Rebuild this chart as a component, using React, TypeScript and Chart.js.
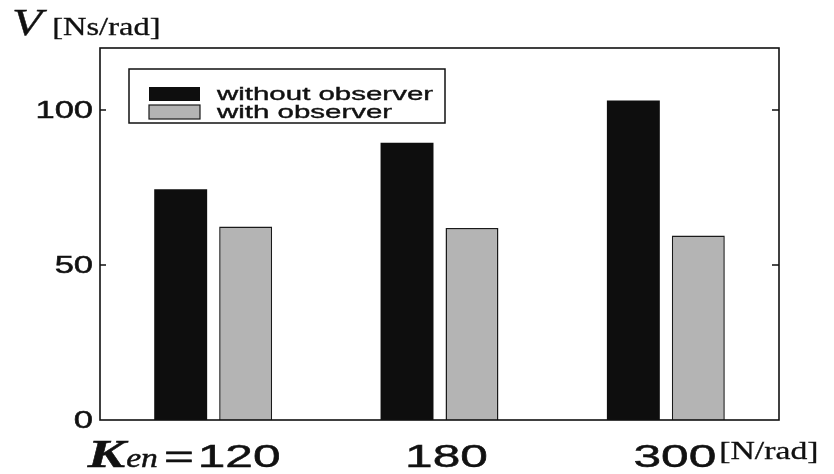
import React, { useEffect, useRef } from "react";
import { Chart, registerables } from "chart.js";

Chart.register(...registerables);

const categories = ["120", "180", "300"];
const withoutObserver = [74.4, 89.4, 103.1];
const withObserver = [62.4, 61.9, 59.5];
const yTickValues = [0, 50, 100];
const seriesLabels = ["without observer", "with observer"];

const SANS = '"Liberation Sans", Arial, sans-serif';
const SERIF = '"Liberation Serif", "Times New Roman", serif';

function sText(
  ctx: CanvasRenderingContext2D,
  text: string,
  x: number,
  y: number,
  font: string,
  sx: number,
  align: "left" | "right" | "center",
  baseline: CanvasTextBaseline = "alphabetic",
  heft = 0.5
) {
  ctx.save();
  ctx.font = font;
  ctx.textAlign = "left";
  ctx.textBaseline = baseline;
  const w = ctx.measureText(text).width * sx;
  const x0 = align === "left" ? x : align === "right" ? x - w : x - w / 2;
  ctx.translate(x0, y);
  ctx.scale(sx, 1);
  ctx.fillStyle = "#111";
  ctx.fillText(text, 0, 0);
  if (heft > 0) {
    ctx.strokeStyle = "#111";
    ctx.lineWidth = heft;
    ctx.strokeText(text, 0, 0);
  }
  ctx.restore();
  return { left: x0, right: x0 + w };
}

const decorPlugin = {
  id: "decor",
  afterDraw(chart: any) {
    const ctx: CanvasRenderingContext2D = chart.ctx;
    const { left, right, top, bottom } = chart.chartArea;
    const ys = chart.scales.y;
    const xs = chart.scales.x;

    ctx.save();
    // frame
    ctx.strokeStyle = "#111";
    ctx.lineWidth = 1.6;
    ctx.strokeRect(left, top, right - left, bottom - top);

    // y ticks + labels
    yTickValues.forEach((v) => {
      const py = ys.getPixelForValue(v);
      if (v !== 0) {
        ctx.beginPath();
        ctx.moveTo(left, py);
        ctx.lineTo(left + 6, py);
        ctx.moveTo(right, py);
        ctx.lineTo(right - 7, py);
        ctx.stroke();
      }
      sText(ctx, String(v), left - 7, py + 8, `23px ${SANS}`, 1.5, "right", "alphabetic");
    });

    // x labels
    const shifts = [26, 7, 9];
    categories.forEach((c, i) => {
      const px = xs.getPixelForValue(i) + shifts[i];
      const r = sText(ctx, c, px, 467, `32px ${SANS}`, 1.55, "center");
      if (i === 0) {
        const eq = sText(ctx, "=", r.left - 4, 467, `32px ${SANS}`, 1.6, "right");
        const en = sText(ctx, "en", eq.left - 6, 467, `italic 28px ${SERIF}`, 1.2, "right");
        sText(ctx, "K", en.left - 1, 467, `italic bold 40px ${SERIF}`, 1.4, "right");
      }
      if (i === categories.length - 1) {
        sText(ctx, "[N/rad]", r.right + 3, 459, `25px ${SERIF}`, 1.35, "left", "alphabetic", 0.3);
      }
    });

    // y title
    const v = sText(ctx, "V", 12, 35, `italic 38px ${SERIF}`, 1.3, "left", "alphabetic", 0.4);
    sText(ctx, "[Ns/rad]", v.right + 10, 35, `25px ${SERIF}`, 1.3, "left", "alphabetic", 0.3);

    // legend
    const bx = left + 29;
    const by = top + 21;
    ctx.lineWidth = 1.5;
    ctx.strokeStyle = "#111";
    ctx.fillStyle = "#fff";
    ctx.fillRect(bx, by, 316, 54);
    ctx.strokeRect(bx, by, 316, 54);
    chart.data.datasets.forEach((ds: any, i: number) => {
      const sy = by + 18 + i * 18;
      ctx.fillStyle = ds.backgroundColor;
      ctx.fillRect(bx + 20, sy, 51, 14);
      if (ds.borderWidth) {
        ctx.lineWidth = 1.2;
        ctx.strokeStyle = ds.borderColor;
        ctx.strokeRect(bx + 20, sy, 51, 14);
      }
      sText(ctx, ds.label, bx + 88, sy + 13, `19px ${SANS}`, 1.55, "left", "alphabetic", 0.4);
    });
    ctx.restore();
  },
};

export default function App() {
  const ref = useRef<HTMLCanvasElement | null>(null);
  useEffect(() => {
    if (!ref.current) return;
    const chart = new Chart(ref.current, {
      type: "bar",
      data: {
        labels: categories,
        datasets: [
          {
            label: seriesLabels[0],
            data: withoutObserver,
            backgroundColor: "#0e0e0e",
            borderWidth: 0,
            categoryPercentage: 0.574,
            barPercentage: 0.815,
          },
          {
            label: seriesLabels[1],
            data: withObserver,
            backgroundColor: "#b4b4b4",
            borderColor: "#1a1a1a",
            borderWidth: 1.5,
            categoryPercentage: 0.574,
            barPercentage: 0.815,
          },
        ],
      },
      options: {
        animation: false,
        responsive: false,
        layout: { padding: { left: 100, right: 55, top: 48, bottom: 54 } },
        plugins: { legend: { display: false }, tooltip: { enabled: false } },
        scales: {
          x: {
            type: "category",
            offset: true,
            grid: { display: false },
            border: { display: false },
            ticks: { display: false },
            afterFit: (s: any) => {
              s.height = 0;
            },
          },
          y: {
            min: 0,
            max: 120,
            grid: { display: false },
            border: { display: false },
            ticks: { display: false },
            afterFit: (s: any) => {
              s.width = 0;
            },
          },
        },
      },
      plugins: [decorPlugin],
    } as any);
    return () => chart.destroy();
  }, []);
  return (
    <div style={{ position: "fixed", left: 0, top: 0, width: 834, height: 474, background: "#fff" }}>
      <canvas ref={ref} width={834} height={474} style={{ display: "block" }} />
    </div>
  );
}
